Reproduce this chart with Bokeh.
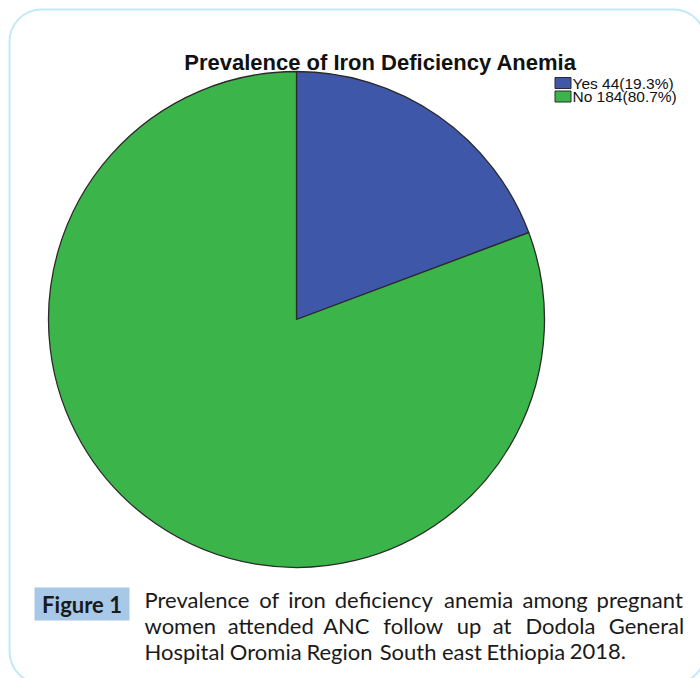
from math import pi
import numpy as np
from bokeh.plotting import figure
from bokeh.models import Range1d, BoxAnnotation, ColumnDataSource
from bokeh.core.properties import value
from bokeh.embed import file_html
from bokeh.resources import INLINE

# ---- data ----
labels = ["Yes", "No"]
counts = [44, 184]
percents = [19.3, 80.7]
colors = ["#3f57a8", "#3bb54a"]
title_text = "Prevalence of Iron Deficiency Anemia"
fig_label = "Figure 1"
caption_lines = [
    "Prevalence of iron deficiency anemia among pregnant",
    "women attended ANC follow up at Dodola General",
    "Hospital Oromia Region South east Ethiopia 2018.",
]

W, H = 700, 678


def py(y):
    # page y (from top) -> data y
    return H - y


p = figure(width=W, height=H, output_backend="svg", toolbar_location=None,
           x_range=Range1d(0, W), y_range=Range1d(0, H),
           min_border=0)
p.axis.visible = False
p.grid.visible = False
p.outline_line_color = None
p.background_fill_color = "white"
p.border_fill_color = "white"

# outer rounded frame
p.add_layout(BoxAnnotation(left=9, right=705, top=py(9), bottom=py(683),
                           border_radius=32, fill_alpha=0,
                           line_color="#2db5ef", line_width=2))

# pie
total = sum(counts)
fr = np.array(counts) / total
cum = np.cumsum(fr)
prev = np.concatenate([[0], cum[:-1]])
src = ColumnDataSource(dict(
    start=pi / 2 - cum * 2 * pi,
    end=pi / 2 - prev * 2 * pi,
    color=colors,
))
p.wedge(x=296, y=py(319), radius=248, start_angle="start", end_angle="end",
        direction="anticlock", fill_color="color", line_color="#2a2a2a",
        line_width=1.3, source=src)

# title
p.text(x=[380], y=[py(62)], text=[title_text], text_align="center",
       text_baseline="middle", text_font=value("Liberation Sans"),
       text_font_style="bold", text_font_size="22px", text_color="#111111")

# legend
leg_y = [py(82.5), py(96)]
p.rect(x=[562.5] * 2, y=leg_y, width=16, height=11, fill_color=colors,
       line_color="#2a2a2a", line_width=1)
leg_txt = [f"{l} {c}({v}%)" for l, c, v in zip(labels, counts, percents)]
p.text(x=[572] * 2, y=leg_y, text=leg_txt, text_align="left",
       text_baseline="middle", text_font=value("Liberation Sans"),
       text_font_size="15.5px", text_color="#111111")

# caption label box
p.quad(left=34, right=129, top=py(587), bottom=py(620),
       fill_color="#a8c8e8", line_color=None)
p.text(x=[81.5], y=[py(603.5)], text=[fig_label], text_align="center",
       text_baseline="middle", text_font=value("Lato"),
       text_font_style="bold", text_font_size="22px", text_color="#1a1a1a")

# caption text: justified lines placed word by word
# approximate rendered word widths (px) of Lato at 20px
word_w20 = [
    [95, 17, 33, 90, 62, 58, 79],
    [64, 75, 43, 55, 21, 18, 64, 68],
    [73, 65, 62, 52, 36, 71, 52],
]
fsize = 22
scale = fsize / 20
x_left, x_right = 144, 683
mid_y = [599, 625, 651]
for i, line in enumerate(caption_lines):
    words = line.split(" ")
    ws = [w * scale for w in word_w20[i]]
    if i < len(caption_lines) - 1:
        gap = (x_right - x_left - sum(ws)) / (len(words) - 1)
    else:
        gap = 0.23 * fsize
    xs = []
    cx = x_left
    for w in ws:
        xs.append(cx)
        cx += w + gap
    p.text(x=xs, y=[py(mid_y[i])] * len(words), text=words,
           text_align="left", text_baseline="middle",
           text_font=value("Lato"), text_font_size=f"{fsize}px",
           text_color="#1a1a1a")

open("out.html", "w").write(file_html(p, INLINE))
